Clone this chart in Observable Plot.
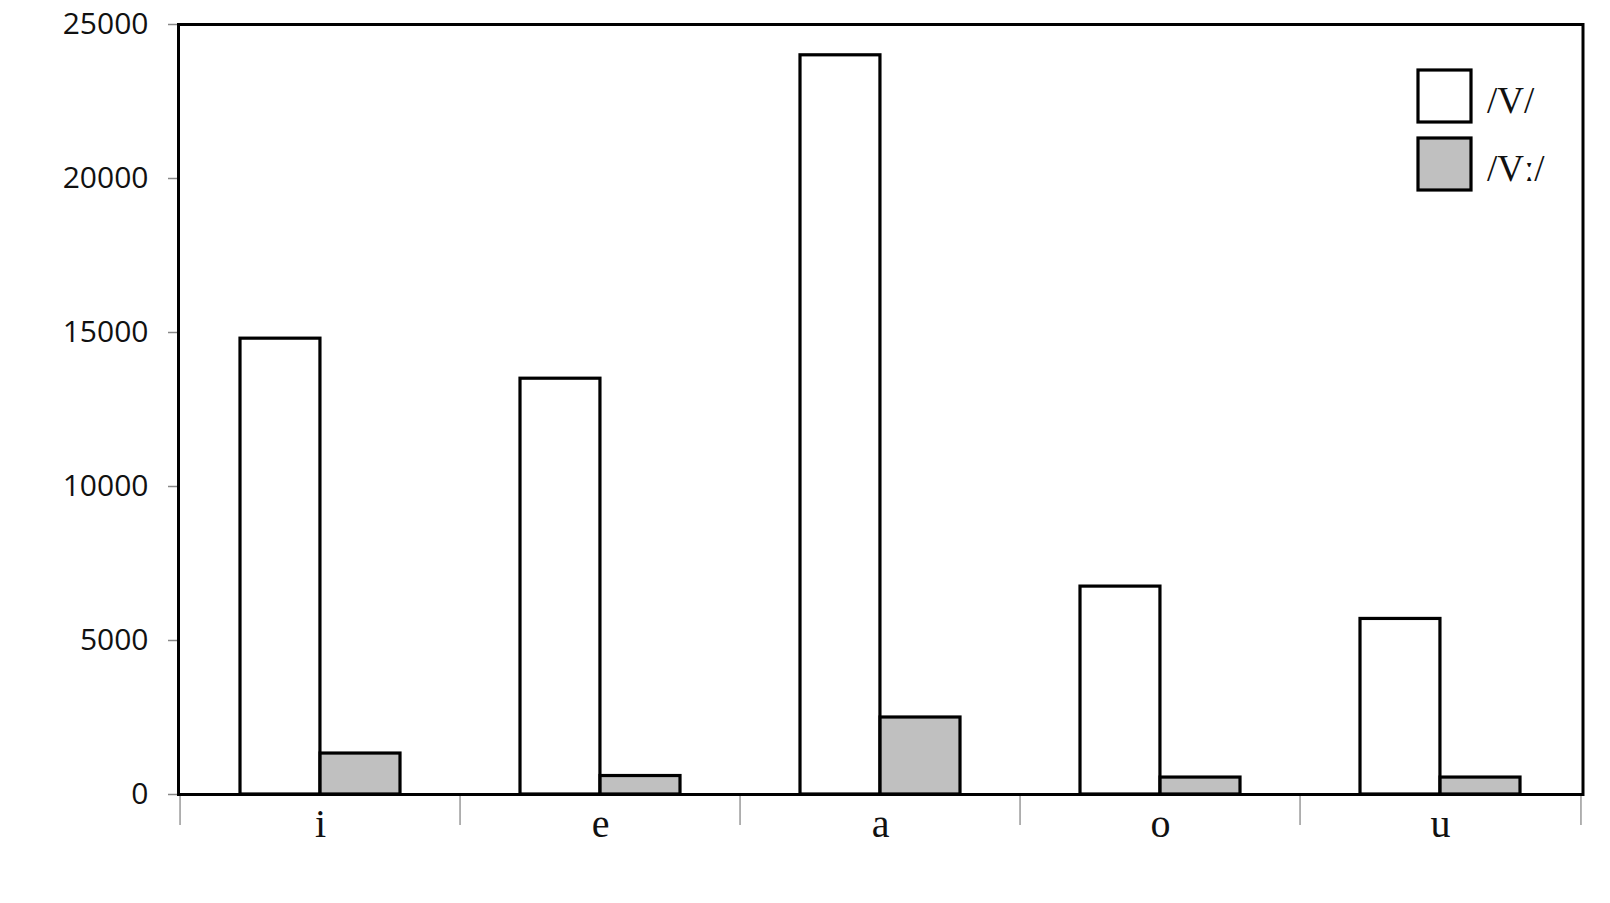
<!DOCTYPE html>
<html>
<head>
<meta charset="utf-8">
<script src="https://cdn.jsdelivr.net/npm/d3@7"></script>
<script src="https://cdn.jsdelivr.net/npm/@observablehq/plot@0.6"></script>
<style>
  html, body { margin: 0; padding: 0; background: #fff; }
  #chart { position: relative; width: 1610px; height: 903px; }
</style>
</head>
<body>
<div id="chart"></div>
<script>
const categories = ["i", "e", "a", "o", "u"];
const seriesNames = ["/V/", "/Vː/"];
const seriesFills = ["#ffffff", "#c0c0c0"];
const shortValues = [14800, 13500, 24000, 6750, 5700];
const longValues = [1330, 600, 2500, 550, 550];
const yTicks = [0, 5000, 10000, 15000, 20000, 25000];

const data = [];
categories.forEach((c, i) => {
  data.push({cat: c, series: seriesNames[0], value: shortValues[i]});
  data.push({cat: c, series: seriesNames[1], value: longValues[i]});
});

const W = 1610, H = 903;
const mL = 178, mR = 27.5, mT = 24, mB = 109;
const padInner = 0.43, padOuter = 0.215;
const step = (W - mL - mR) / (categories.length - padInner + 2 * padOuter);
const bw = step * (1 - padInner);

const plot = Plot.plot({
  width: W,
  height: H,
  marginLeft: mL,
  marginRight: mR,
  marginTop: mT,
  marginBottom: mB,
  style: {background: "#fff", color: "#111", overflow: "visible"},
  x: {domain: categories, paddingInner: padInner, paddingOuter: padOuter, label: null},
  y: {domain: [0, 25000], label: null},
  marks: [
    Plot.barY(data.filter(d => d.series === seriesNames[0]), {
      x: "cat", y: "value", fill: seriesFills[0], stroke: "black", strokeWidth: 3.2,
      insetRight: bw / 2
    }),
    Plot.barY(data.filter(d => d.series === seriesNames[1]), {
      x: "cat", y: "value", fill: seriesFills[1], stroke: "black", strokeWidth: 3.2,
      insetLeft: bw / 2
    }),
    Plot.axisY({
      ticks: yTicks, tickSize: 10, tickPadding: 20, stroke: "#888", strokeWidth: 1.5,
      fontSize: 30, fontFamily: "Open Sans", label: null, tickFormat: d => String(d)
    }),
    Plot.axisX({
      ticks: categories, tickSize: 31, dx: -step / 2, stroke: "#999", strokeWidth: 1.5,
      tickFormat: () => "", label: null
    }),
    Plot.axisX({
      ticks: [categories[categories.length - 1]], tickSize: 31, dx: step / 2, stroke: "#999", strokeWidth: 1.5,
      tickFormat: () => "", label: null
    }),
    Plot.axisX({
      ticks: categories, tickSize: 0, tickPadding: 14, fontSize: 40,
      fontFamily: "Liberation Serif", label: null
    }),
    Plot.frame({stroke: "black", strokeWidth: 3})
  ]
});

document.getElementById("chart").appendChild(plot);

// legend inside the plot area (top right)
const svg = d3.select(plot);
const lg = svg.append("g").attr("transform", "translate(1418,70)");
seriesNames.forEach((name, i) => {
  const g = lg.append("g").attr("transform", `translate(0,${i * 68})`);
  g.append("rect").attr("x", 0).attr("y", 0).attr("width", 53).attr("height", 52)
    .attr("fill", seriesFills[i]).attr("stroke", "black").attr("stroke-width", 3.2);
  g.append("text").attr("x", 69).attr("y", 43)
    .attr("text-anchor", "start")
    .attr("font-family", "Liberation Serif").attr("font-size", 37).attr("fill", "#111")
    .text(name);
});
</script>
</body>
</html>
